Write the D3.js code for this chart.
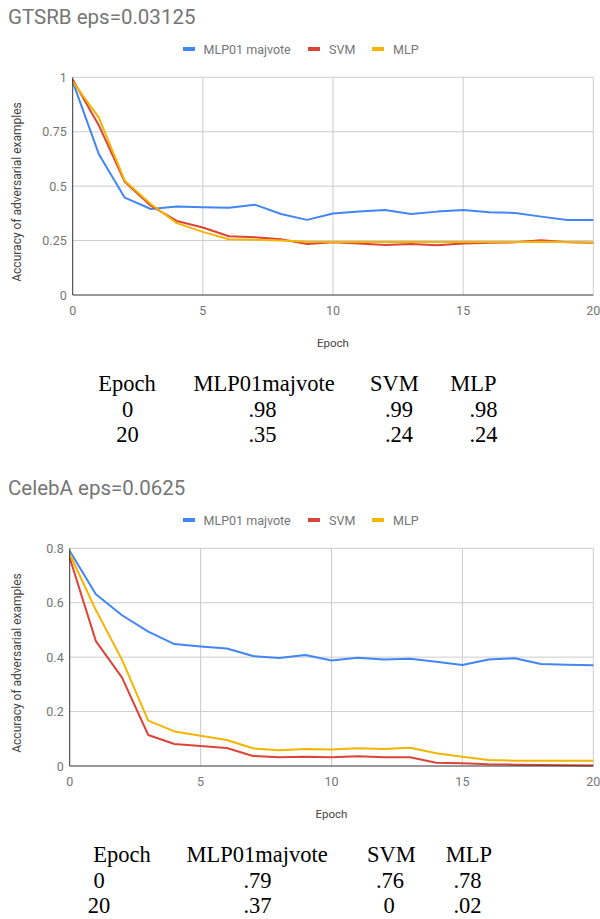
<!DOCTYPE html>
<html><head><meta charset="utf-8">
<script src="https://cdn.jsdelivr.net/npm/d3@7"></script>
<style>
html,body{margin:0;padding:0;background:#fff;}
svg{display:block;}
</style></head>
<body>
<svg id="c" width="600" height="919"></svg>
<script>
const epochs = [0,1,2,3,4,5,6,7,8,9,10,11,12,13,14,15,16,17,18,19,20];
const seriesNames = ["MLP01 majvote","SVM","MLP"];
const seriesColors = ["#4285F4","#DB4437","#F4B400"];

// GTSRB eps=0.03125
const gtsrbMajvote = [0.98,0.648,0.447,0.395,0.406,0.403,0.401,0.415,0.372,0.345,0.374,0.383,0.39,0.372,0.383,0.39,0.38,0.377,0.36,0.345,0.345];
const gtsrbSVM     = [0.99,0.78,0.52,0.41,0.34,0.31,0.27,0.265,0.256,0.234,0.242,0.237,0.23,0.234,0.228,0.237,0.24,0.242,0.251,0.242,0.24];
const gtsrbMLP     = [0.98,0.816,0.525,0.418,0.33,0.29,0.256,0.254,0.25,0.245,0.244,0.243,0.244,0.244,0.243,0.243,0.244,0.243,0.245,0.243,0.24];
const gtsrbYTicks = [0,0.25,0.5,0.75,1];
const gtsrbYLabels = ["0","0.25","0.5","0.75","1"];

// CelebA eps=0.0625
const celebMajvote = [0.79,0.631,0.554,0.494,0.448,0.439,0.432,0.404,0.397,0.408,0.388,0.398,0.391,0.394,0.383,0.371,0.391,0.396,0.375,0.372,0.37];
const celebSVM     = [0.765,0.459,0.325,0.114,0.081,0.0735,0.066,0.037,0.032,0.034,0.032,0.0355,0.032,0.032,0.012,0.0098,0.006,0.005,0.004,0.003,0.002];
const celebMLP     = [0.779,0.573,0.39,0.167,0.127,0.111,0.0955,0.065,0.0576,0.0625,0.061,0.065,0.0625,0.067,0.0466,0.034,0.022,0.0196,0.0196,0.0196,0.0196];
const celebYTicks = [0,0.2,0.4,0.6,0.8];
const celebYLabels = ["0","0.2","0.4","0.6","0.8"];

const xTicks = [0,5,10,15,20];
const xLabels = ["0","5","10","15","20"];

// tables
const tableHeader = ["Epoch","MLP01majvote","SVM","MLP"];
const gtsrbTableRows = [["0",".98",".99",".98"],["20",".35",".24",".24"]];
const celebTableRows = [["0",".79",".76",".78"],["20",".37","0",".02"]];

const svg = d3.select("#c");
const sans = "Roboto, 'Noto Sans', Arial, sans-serif";
const serif = "'Liberation Serif','Times New Roman',Times,serif";

function drawChart(cfg){
  const g = svg.append("g").attr("transform",`translate(0,${cfg.top})`);
  const x = d3.scaleLinear().domain([0,20]).range([cfg.left, 593.3]);
  const y = d3.scaleLinear().domain([0,cfg.ymax]).range([295, 77.3]);

  g.append("text").attr("x",8).attr("y",24).text(cfg.title)
    .attr("font-family",sans).attr("font-size",20.5).attr("fill","#757575");

  // legend
  const legendX = [183,308,372];
  const legendTX = [203.5,329,393];
  seriesNames.forEach((n,i)=>{
    g.append("rect").attr("x",legendX[i]).attr("y",47).attr("width",12).attr("height",4)
      .attr("fill",seriesColors[i]);
    g.append("text").attr("x",legendTX[i]).attr("y",53.5).text(n)
      .attr("font-family",sans).attr("font-size",12.5).attr("fill","#757575");
  });

  // grid
  g.selectAll(".hg").data(cfg.yTicks.slice(1)).enter().append("line")
    .attr("x1",x(0)).attr("x2",x(20)).attr("y1",d=>y(d)).attr("y2",d=>y(d))
    .attr("stroke","#cccccc").attr("stroke-width",1);
  g.selectAll(".vg").data(xTicks.slice(1)).enter().append("line")
    .attr("x1",d=>x(d)).attr("x2",d=>x(d)).attr("y1",y(0)).attr("y2",y(cfg.ymax))
    .attr("stroke","#cccccc").attr("stroke-width",1);

  // y tick labels
  g.selectAll(".yl").data(cfg.yTicks).enter().append("text")
    .attr("x",cfg.left-6).attr("y",d=>y(d)+4.5).attr("text-anchor","end")
    .text((d,i)=>cfg.yLabels[i]).attr("font-family",sans).attr("font-size",12.5).attr("fill","#757575");
  // x tick labels
  g.selectAll(".xl").data(xTicks).enter().append("text")
    .attr("x",d=>x(d)).attr("y",314.5).attr("text-anchor","middle")
    .text((d,i)=>xLabels[i]).attr("font-family",sans).attr("font-size",12.5).attr("fill","#757575");

  // axis titles
  g.append("text").attr("x",x(10)).attr("y",347).attr("text-anchor","middle").text("Epoch")
    .attr("font-family",sans).attr("font-size",11.5).attr("fill","#444");
  g.append("text").attr("transform",`translate(21,192) rotate(-90)`).attr("text-anchor","middle")
    .text("Accuracy of adversarial examples").attr("font-family",sans).attr("font-size",12).attr("fill","#444");

  // series
  const line = d3.line().x((d,i)=>x(epochs[i])).y(d=>y(d));
  cfg.series.forEach((s,i)=>{
    g.append("path").datum(s).attr("d",line).attr("fill","none")
      .attr("stroke",seriesColors[i]).attr("stroke-width",2).attr("stroke-linejoin","round");
  });

  // baselines
  g.append("line").attr("x1",x(0)).attr("x2",x(0)).attr("y1",y(0)).attr("y2",y(cfg.ymax))
    .attr("stroke","#333").attr("stroke-width",1);
  g.append("line").attr("x1",x(0)).attr("x2",x(20)).attr("y1",y(0)).attr("y2",y(0))
    .attr("stroke","#333").attr("stroke-width",1);

  // table
  const rowsY = [390.5,416.5,442];
  const all = [tableHeader].concat(cfg.rows);
  all.forEach((r,ri)=>{
    r.forEach((t,ci)=>{
      g.append("text").attr("x",cfg.colX[ri][ci]).attr("y",rowsY[ri]).attr("text-anchor","middle")
        .text(t).attr("font-family",serif).attr("font-size",22.5).attr("fill","#000");
    });
  });
}

drawChart({top:0,left:72.7,ymax:1,title:"GTSRB eps=0.03125",yTicks:gtsrbYTicks,yLabels:gtsrbYLabels,
  series:[gtsrbMajvote,gtsrbSVM,gtsrbMLP],rows:gtsrbTableRows,
  colX:[[127,264,394.5,473.5],[127.5,262.5,399,483.5],[127.5,262.5,399,483.5]]});
drawChart({top:471,left:69.7,ymax:0.8,title:"CelebA eps=0.0625",yTicks:celebYTicks,yLabels:celebYLabels,
  series:[celebMajvote,celebSVM,celebMLP],rows:celebTableRows,
  colX:[[122,257,391.5,469],[99,257.5,390,467.5],[99,257.5,389,467.5]]});
</script>
</body></html>
